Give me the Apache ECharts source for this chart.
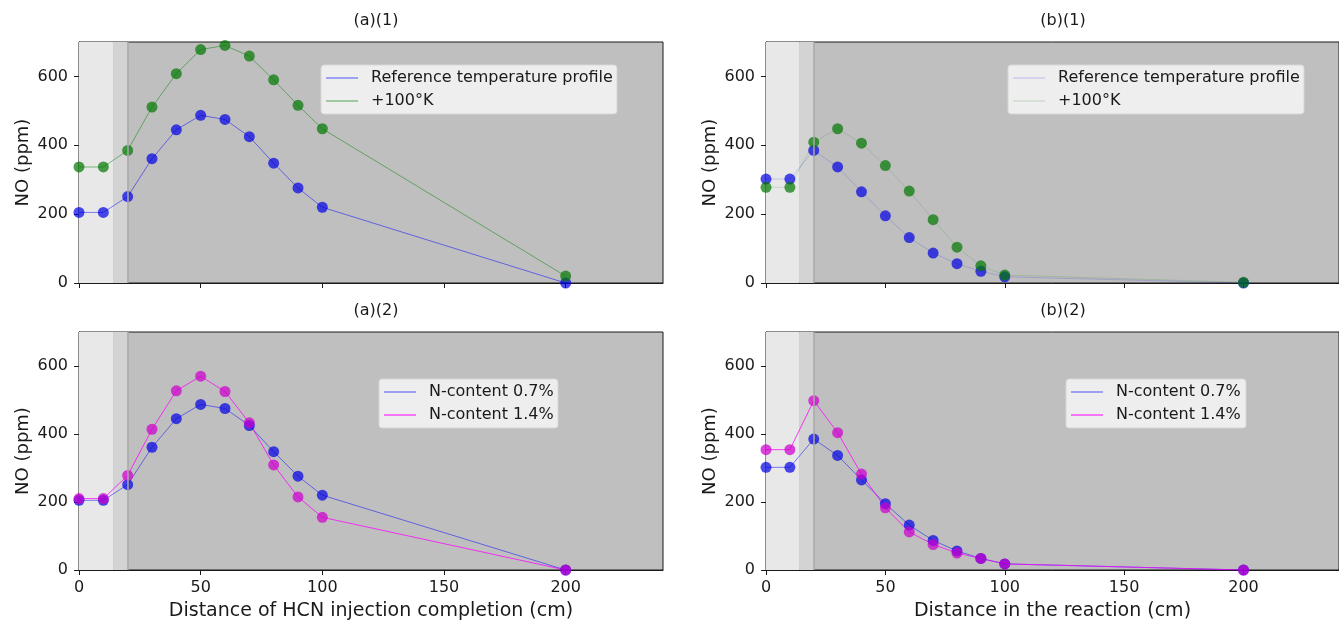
<!DOCTYPE html>
<html>
<head>
<meta charset="utf-8">
<script src="https://cdn.jsdelivr.net/npm/echarts@6/dist/echarts.min.js"></script>
<style>
  html, body { margin: 0; padding: 0; background: #fff; }
  #chart { width: 1339px; height: 622px; }
</style>
</head>
<body>
<div id="chart"></div>
<script>
// distances (cm) and NO (ppm)
const distances = [0, 10, 20, 30, 40, 50, 60, 70, 80, 90, 100, 200];
const aRef = [205, 205, 251, 361, 445, 487, 475, 425, 348, 276, 220, 0];
const aHot = [337, 337, 385, 511, 608, 678, 690, 659, 590, 516, 448, 20];
const aN14 = [210, 210, 278, 414, 527, 570, 525, 433, 309, 215, 155, 0];
const bRef = [302, 302, 385, 337, 265, 195, 132, 87, 56, 34, 18, 0];
const bHot = [278, 278, 409, 448, 406, 341, 267, 184, 104, 50, 23, 2];
const bN14 = [354, 354, 498, 404, 282, 183, 112, 75, 50, 34, 18, 0];

const xTicks = [0, 50, 100, 150, 200];
const yTicks = [0, 200, 400, 600];
const titles = ['(a)(1)', '(b)(1)', '(a)(2)', '(b)(2)'];

const FONT = 'DejaVu Sans';
const INK = '#1a1a1a';

const grids = [
  { left: 79, top: 42, width: 584, height: 241 },
  { left: 766, top: 42, width: 583, height: 241 },
  { left: 79, top: 332, width: 584, height: 240 },
  { left: 766, top: 332, width: 583, height: 240 },
];

const pairs = (ys) => distances.map((x, i) => [x, ys[i]]);

function xAxisFor(i, showLabels, name) {
  return {
    type: 'value', gridIndex: i, min: 0, max: 240,
    name: name || '', nameLocation: 'middle', nameGap: 32,
    nameTextStyle: { fontFamily: FONT, fontSize: 19, color: INK },
    axisLine: { show: true, onZero: false, lineStyle: { color: INK, width: 1 } },
    axisTick: { show: true, length: 5, customValues: xTicks, lineStyle: { color: INK } },
    axisLabel: { show: showLabels, customValues: xTicks, fontFamily: FONT, fontSize: 16, color: INK, margin: 10 },
    splitLine: { show: false },
  };
}

function yAxisFor(i) {
  return {
    type: 'value', gridIndex: i, min: 0, max: 700,
    name: 'NO (ppm)', nameLocation: 'middle', nameGap: 47,
    nameTextStyle: { fontFamily: FONT, fontSize: 18, color: INK },
    axisLine: { show: true, onZero: false, lineStyle: { color: INK, width: 1 } },
    axisTick: { show: true, length: 5, customValues: yTicks, lineStyle: { color: INK } },
    axisLabel: { customValues: yTicks, fontFamily: FONT, fontSize: 16, color: INK, margin: 11 },
    splitLine: { show: false },
  };
}

// shaded zones behind the data
function zoneSeries(i) {
  return {
    type: 'line', xAxisIndex: i, yAxisIndex: i, data: [], z: 1, silent: true,
    markArea: {
      silent: true,
      data: [
        [{ xAxis: 0, itemStyle: { color: '#e8e8e8' } }, { xAxis: 14 }],
        [{ xAxis: 14, itemStyle: { color: '#d3d3d3' } }, { xAxis: 20 }],
      ],
    },
    markLine: {
      silent: true, symbol: 'none', label: { show: false },
      lineStyle: { color: '#a9a9a9', width: 1.5, type: 'solid' },
      data: [{ xAxis: 20 }],
    },
  };
}

function dataSeries(i, name, ys, dot, line) {
  return {
    type: 'line', name, xAxisIndex: i, yAxisIndex: i, data: pairs(ys), z: 3,
    symbol: 'circle', symbolSize: 11,
    itemStyle: { color: dot, borderWidth: 0 },
    lineStyle: { color: line, width: 0.9 },
    emphasis: { disabled: true },
  };
}

const DOT_BLUE = 'rgba(0,0,230,0.7)';
const DOT_GREEN = 'rgba(0,120,0,0.7)';
const DOT_MAG = 'rgba(205,0,205,0.72)';
const LINE_BLUE = 'rgba(0,0,255,0.55)';
const LINE_GREEN = 'rgba(0,128,0,0.55)';
const LINE_MAG = 'rgba(255,0,255,0.85)';
const FAINT_BLUE = 'rgba(0,0,255,0.18)';
const FAINT_GREEN = 'rgba(0,128,0,0.18)';

// matplotlib-style legend boxes drawn as graphics
function legendBox(x, y, w, labels, colors) {
  const children = [{
    type: 'rect', shape: { x: 0, y: 0, width: w, height: 49, r: 3 },
    style: { fill: 'rgba(242,242,242,0.92)', stroke: '#d6d6d6', lineWidth: 1 },
  }];
  labels.forEach((t, k) => {
    const cy = 13 + k * 23;
    children.push({
      type: 'line', shape: { x1: 5, y1: cy, x2: 37, y2: cy },
      style: { stroke: colors[k], lineWidth: 1.2 },
    });
    children.push({
      type: 'text', x: 50, y: cy,
      style: { text: t, font: `16px "${FONT}"`, fill: INK, verticalAlign: 'middle', align: 'left' },
    });
  });
  return { type: 'group', x, y, z: 10, silent: true, children };
}

const option = {
  animation: false,
  backgroundColor: '#fff',
  title: titles.map((t, i) => ({
    text: t, left: grids[i].left + 292, top: grids[i].top - 34, textAlign: 'center',
    textStyle: { fontFamily: FONT, fontSize: 16, fontWeight: 'normal', color: INK },
  })),
  grid: grids.map((g) => ({ ...g, show: true, backgroundColor: '#bfbfbf', borderColor: INK, borderWidth: 1 })),
  xAxis: [
    xAxisFor(0, false), xAxisFor(1, false),
    xAxisFor(2, true, 'Distance of HCN injection completion (cm)'),
    xAxisFor(3, true, 'Distance in the reaction (cm)'),
  ],
  yAxis: [yAxisFor(0), yAxisFor(1), yAxisFor(2), yAxisFor(3)],
  graphic: [
    legendBox(321, 65, 296, ['Reference temperature profile', '+100°K'], [LINE_BLUE, LINE_GREEN]),
    legendBox(1008, 65, 296, ['Reference temperature profile', '+100°K'], [FAINT_BLUE, FAINT_GREEN]),
    legendBox(379, 379, 179, ['N-content 0.7%', 'N-content 1.4%'], [LINE_BLUE, LINE_MAG]),
    legendBox(1066, 379, 180, ['N-content 0.7%', 'N-content 1.4%'], [LINE_BLUE, LINE_MAG]),
  ],
  series: [
    zoneSeries(0), zoneSeries(1), zoneSeries(2), zoneSeries(3),
    dataSeries(0, 'Reference temperature profile', aRef, DOT_BLUE, LINE_BLUE),
    dataSeries(0, '+100°K', aHot, DOT_GREEN, LINE_GREEN),
    dataSeries(1, 'Reference temperature profile', bRef, DOT_BLUE, FAINT_BLUE),
    dataSeries(1, '+100°K', bHot, DOT_GREEN, FAINT_GREEN),
    dataSeries(2, 'N-content 0.7%', aRef, DOT_BLUE, LINE_BLUE),
    dataSeries(2, 'N-content 1.4%', aN14, DOT_MAG, LINE_MAG),
    dataSeries(3, 'N-content 0.7%', bRef, DOT_BLUE, LINE_BLUE),
    dataSeries(3, 'N-content 1.4%', bN14, DOT_MAG, LINE_MAG),
  ],
};

const chart = echarts.init(document.getElementById('chart'));
chart.setOption(option);
</script>
</body>
</html>
